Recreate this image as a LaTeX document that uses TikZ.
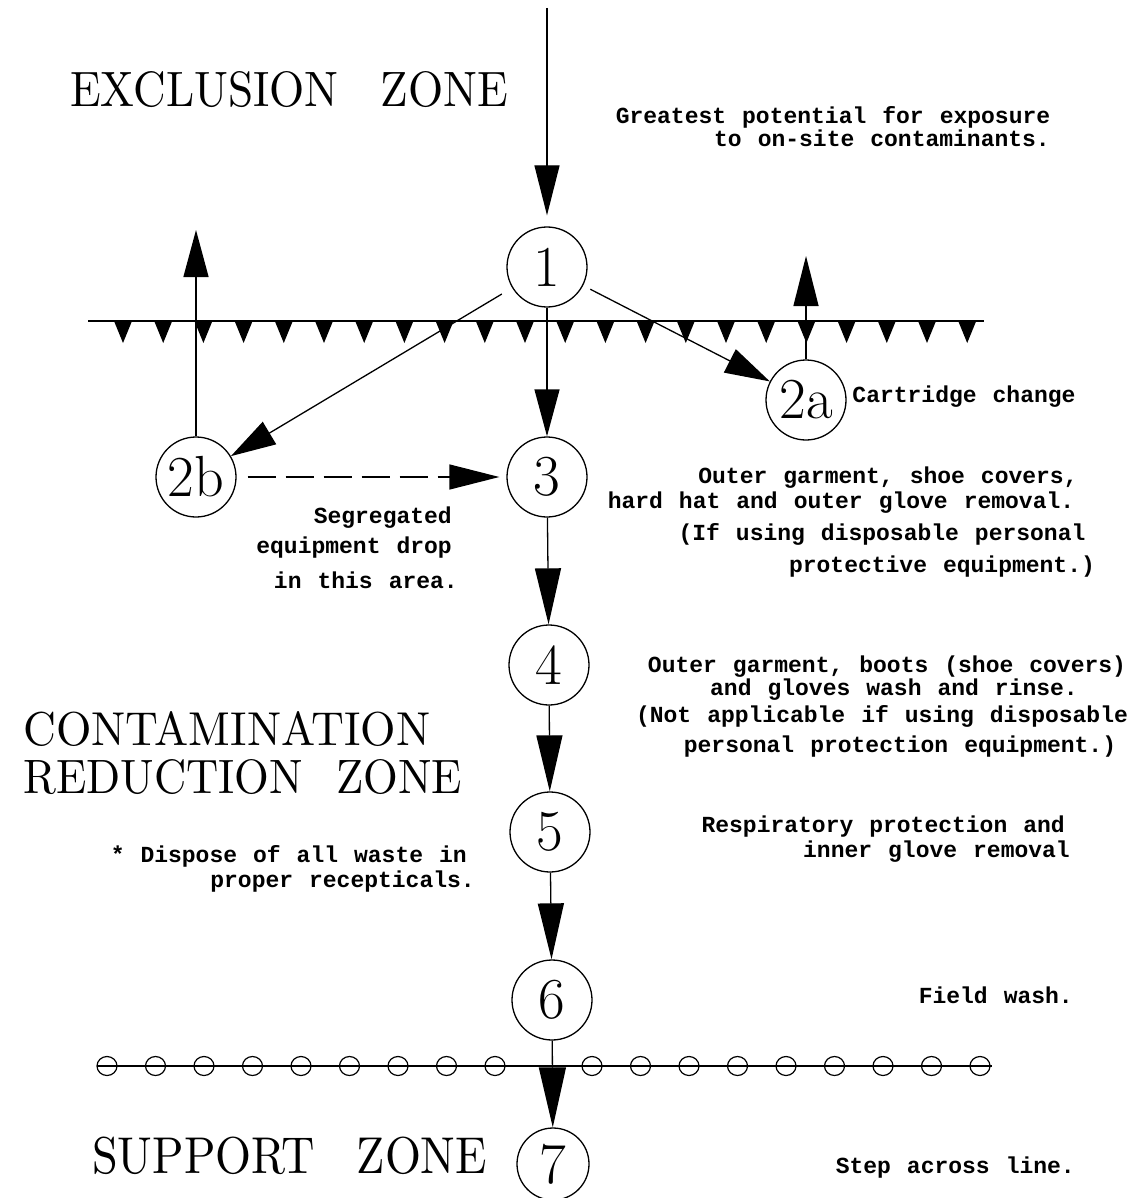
\documentclass[tikz,border=0pt]{standalone}
\usepackage{fontspec}
\usetikzlibrary{arrows.meta}
\newfontfamily\monob{Liberation Mono}
\newcommand\txtfont{\monob\bfseries\fontsize{23}{24}\selectfont\frenchspacing\spaceskip=16pt\relax}
\tikzset{
 circ/.style={circle,draw,line width=1.3pt,minimum size=80pt,inner sep=0pt,font=\fontsize{58}{58}\selectfont},
 arr/.style={line width=1.3pt,-{Triangle[length=50pt,width=25pt]}},
 arrl/.style={line width=1.3pt,-{Triangle[length=56pt,width=26pt]}},
 txt/.style={inner sep=0pt,anchor=base,font=\txtfont},
 txtr/.style={inner sep=0pt,anchor=base east,font=\txtfont},
 big/.style={inner sep=0pt,anchor=base west},
 zline/.style={line width=1.3pt},
}
\begin{document}
\begin{tikzpicture}[x=1pt,y=-1pt]
\useasboundingbox (0,0) rectangle (1138,1198);
% big zone labels
\node[big] (ez) at (70,107) {\resizebox{438pt}{35pt}{EXCLUSION\hspace{0.93em}ZONE}};
\node[big] (cz1) at (23,745) {\resizebox{407pt}{34pt}{CONTAMINATION}};
\node[big] (cz2) at (23,793) {\resizebox{439pt}{34pt}{REDUCTION\hspace{0.75em}ZONE}};
\node[big] (sz) at (92,1173) {\resizebox{395pt}{36.5pt}{SUPPORT\hspace{0.9em}ZONE}};
% barbed line
\draw[zline] (88,321) -- (984,321);
\foreach \i in {0,...,21} \fill ({123+40.2*\i-9},321) -- ++(18,0) -- ++(-9,22) -- cycle;
% circle line
\draw[zline] (97,1066) -- (992,1066);
\foreach \k in {0,...,8,10,11,...,18} \draw[line width=1.2pt] ({107+48.5*\k},1066) ellipse (10 and 9.5);
% nodes
\node[circ] (n1) at (547,267) {1};
\node[circ] (n2a) at (806,400) {2a};
\node[circ] (n2b) at (196,477) {2b};
\node[circ] (n3) at (547,477) {3};
\node[circ] (n4) at (549,665) {4};
\node[circ] (n5) at (550,832) {5};
\node[circ] (n6) at (552,1000) {6};
\node[circ,minimum size=72pt] (n7) at (553,1164) {7};
\coordinate (top) at (547,8);
\coordinate (aup) at (806,256);
\coordinate (bup) at (196,230);
% connectors
\draw[arr,shorten >=11pt] (top) -- (n1);
\draw[arr,-{Triangle[length=47pt,width=25pt]}] (n1) -- (n3);
\draw[arr,-{Triangle[length=45pt,width=26pt]},shorten <=12pt] (n1) -- (n2b);
\draw[arr,-{Triangle[length=45pt,width=26pt]},shorten <=8pt] (n1) -- (n2a);
\draw[arr] (n2a) -- (aup);
\draw[arr,-{Triangle[length=47pt,width=25pt]}] (n2b) -- (bup);
\draw[arr,dash pattern=on 28pt off 10pt,shorten <=11pt,shorten >=7pt] (n2b) -- (n3);
\draw[arrl] (n3) -- (n4);
\draw[arrl] (n4) -- (n5);
\draw[arrl] (n5) -- (n6);
\draw[arr,-{Triangle[length=60pt,width=27pt]}] (n6) -- (n7);
% texts
\node[txt] (g1) at (833,124) {Greatest potential for exposure};
\node[txt] (g2) at (882,147) {to on-site contaminants.};
\node[txt] (c1) at (964,402) {Cartridge change};
\node[txt] (o1) at (888,483) {Outer garment, shoe covers,};
\node[txt] (o2) at (841,508) {hard hat and outer glove removal.};
\node[txt] (o3) at (882,540) {(If using disposable personal};
\node[txt] (o4) at (942,572) {protective equipment.)};
\node[txtr] (s1) at (452,523) {Segregated};
\node[txtr] (s2) at (452,553) {equipment drop};
\node[txtr] (s3) at (458,588) {in this area.};
\node[txt] (w1) at (887,672) {Outer garment, boots (shoe covers)};
\node[txt] (w2) at (894,695) {and gloves wash and rinse.};
\node[txt] (w3) at (882,722) {(Not applicable if using disposable};
\node[txt] (w4) at (900,752) {personal protection equipment.)};
\node[txtr] (r1) at (1065,832) {Respiratory protection and};
\node[txtr] (r2) at (1070,857) {inner glove removal};
\node[txtr] (d1) at (467,862) {* Dispose of all waste in};
\node[txtr] (d2) at (475,887) {proper recepticals.};
\node[txtr] (f1) at (1073,1003) {Field wash.};
\node[txtr] (st) at (1075,1173) {Step across line.};
\end{tikzpicture}
\end{document}
